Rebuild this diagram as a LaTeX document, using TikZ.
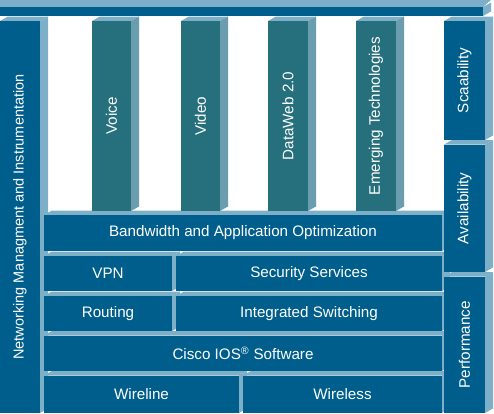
\documentclass[tikz,border=0pt]{standalone}
\usepackage{fontspec}
\setmainfont{Liberation Sans}
\usepackage{tikz}
\usetikzlibrary{positioning}

\definecolor{frontblue}{HTML}{005E8C}
\definecolor{pillarteal}{HTML}{26707D}
\definecolor{faceblue}{HTML}{7DAFC8}
\definecolor{sideteal}{HTML}{6A9EAE}

\tikzset{
  blocklabel/.style={text=white, inner sep=0pt, font=\fontsize{15.2}{18}\selectfont},
}

% \cubeblock{name}{x1}{y1}{x2}{y2}{front}{side}{text}{rotation}
\newcommand{\cubeblock}[9]{%
  \fill[faceblue] (#2,#3) -- ++(8,-4.5) -- (#4+8,#3-4.5) -- (#4,#3) -- cycle;
  \fill[#7] (#4,#3) -- (#4+8,#3-4.5) -- (#4+8,#5-4.5) -- (#4,#5) -- cycle;
  \fill[#6] (#2,#3) rectangle (#4,#5);
  \node[blocklabel, rotate=#9] (#1) at ({(#2+#4)/2},{(#3+#5)/2}) {#8};
}

\begin{document}
\begin{tikzpicture}[x=1pt,y=-1pt]
\useasboundingbox (0,0) rectangle (494,413);
\clip (0,0) rectangle (494,413);
% top bar
\fill[faceblue] (0,0) -- (491,0) -- (483,7) -- (0,7) -- cycle;
\fill[faceblue] (483,7) -- (491,2.5) -- (491,11.5) -- (483,16) -- cycle;
\fill[frontblue] (0,7) rectangle (483,16);
% left column
\cubeblock{mgmt}{0}{21}{40}{413}{frontblue}{faceblue}{\fontsize{14.5}{17}\selectfont Networking Managment and Instrumentation}{90}
% layers
\cubeblock{bandwidth}{44}{215}{442}{251}{frontblue}{faceblue}{Bandwidth and Application Optimization}{0}
\cubeblock{vpn}{44}{256}{172}{291}{frontblue}{faceblue}{VPN}{0}
\cubeblock{security}{176}{256}{442}{291}{frontblue}{faceblue}{Security Services}{0}
\cubeblock{routing}{44}{296}{172}{331}{frontblue}{faceblue}{Routing}{0}
\cubeblock{switching}{176}{296}{442}{331}{frontblue}{faceblue}{Integrated Switching}{0}
\cubeblock{ios}{44}{335.5}{442}{371}{frontblue}{faceblue}{Cisco IOS\textsuperscript{®} Software}{0}
\cubeblock{wireline}{44}{375.5}{239}{413}{frontblue}{faceblue}{Wireline}{0}
\cubeblock{wireless}{243}{375.5}{442}{413}{frontblue}{faceblue}{Wireless}{0}
% pillars
\cubeblock{voice}{92}{21}{131}{211}{pillarteal}{sideteal}{Voice}{90}
\cubeblock{video}{181}{21}{220}{211}{pillarteal}{sideteal}{Video}{90}
\cubeblock{dataweb}{268}{21}{308}{211}{pillarteal}{sideteal}{DataWeb 2.0}{90}
\cubeblock{emerging}{356}{21}{396}{211}{pillarteal}{sideteal}{Emerging Technologies}{90}
% right column
\cubeblock{scal}{444}{21}{485}{140}{frontblue}{faceblue}{Scaability}{90}
\cubeblock{avail}{444}{144.5}{485}{272}{frontblue}{faceblue}{Availability}{90}
\cubeblock{perf}{444}{276.5}{485}{413}{frontblue}{faceblue}{Performance}{90}
\end{tikzpicture}
\end{document}
